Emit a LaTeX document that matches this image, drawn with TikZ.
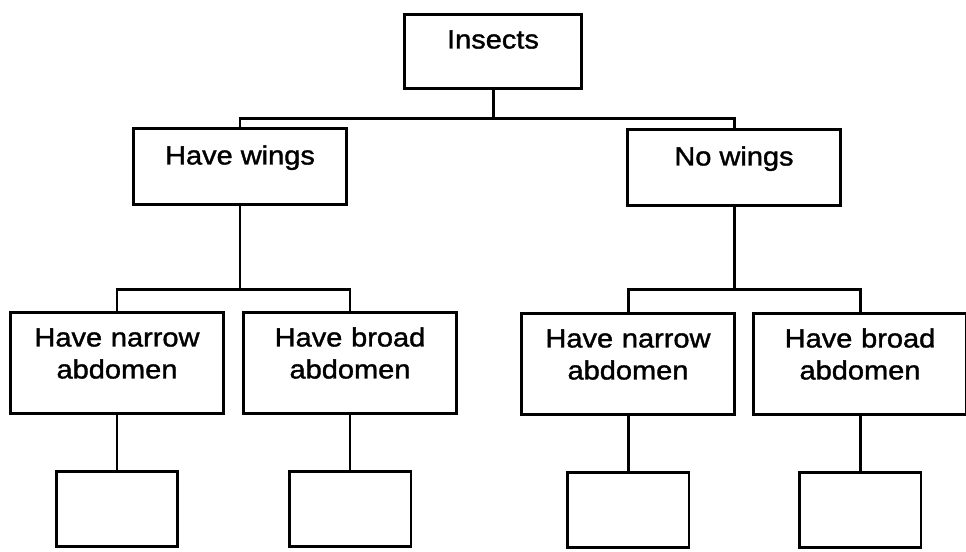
\documentclass[tikz,border=0pt]{standalone}
\usepackage{fontspec}
\setmainfont{Liberation Sans}[FakeStretch=1.1,FakeBold=1.4]
\usepackage{tikz}
\usetikzlibrary{positioning}

\tikzset{
  box/.style={draw,line width=1.7pt,anchor=north,inner sep=0pt,
    align=center,font=\fontsize{15}{18.2}\selectfont},
  topbox/.style={box,minimum width=3.54cm,text height=0.68cm,text depth=0.80cm},
  midbox/.style={box,minimum width=4.26cm,text height=0.72cm,text depth=0.80cm},
  lowbox/.style={box,minimum width=4.26cm,text width=4cm,
    text height=0.68cm,text depth=1.34cm},
  emptybox/.style={box,minimum width=2.44cm,minimum height=1.5cm},
  link/.style={line width=1.7pt}
}

\begin{document}
\begin{tikzpicture}[x=0.02cm,y=-0.02cm]
  \useasboundingbox (0,0) rectangle (966,551);

  % top level
  \node[topbox] (insects) at (493,13) {Insects};

  % wings or not
  \node[midbox] (wings) at (240,127) {Have wings};
  \node[midbox] (nowings) at (734,128) {No wings};

  % abdomen shape
  \node[lowbox] (wnarrow) at (117,311) {Have narrow\\abdomen};
  \node[lowbox] (wbroad) at (350,311) {Have broad\\abdomen};
  \node[lowbox] (nnarrow) at (628,312) {Have narrow\\abdomen};
  \node[lowbox] (nbroad) at (860,312) {Have broad\\abdomen};

  % blank answer boxes
  \foreach \src/\n in {wnarrow/1,wbroad/2,nnarrow/3,nbroad/4}
    \node[emptybox,below=1.1cm of \src] (blank\n) {};

  % connectors
  \draw[link] (insects.south) -- ++(0,29) coordinate (bus0) -| (wings.north);
  \draw[link] (bus0) -| (nowings.north);
  \draw[link] (wings.south) -- ++(0,84) coordinate (busw) -| (wnarrow.north);
  \draw[link] (busw) -| (wbroad.north);
  \draw[link] (nowings.south) -- ++(0,83) coordinate (busn) -| (nnarrow.north);
  \draw[link] (busn) -| (nbroad.north);
  \foreach \src/\n in {wnarrow/1,wbroad/2,nnarrow/3,nbroad/4}
    \draw[link] (\src.south) -- (blank\n.north);
\end{tikzpicture}
\end{document}
